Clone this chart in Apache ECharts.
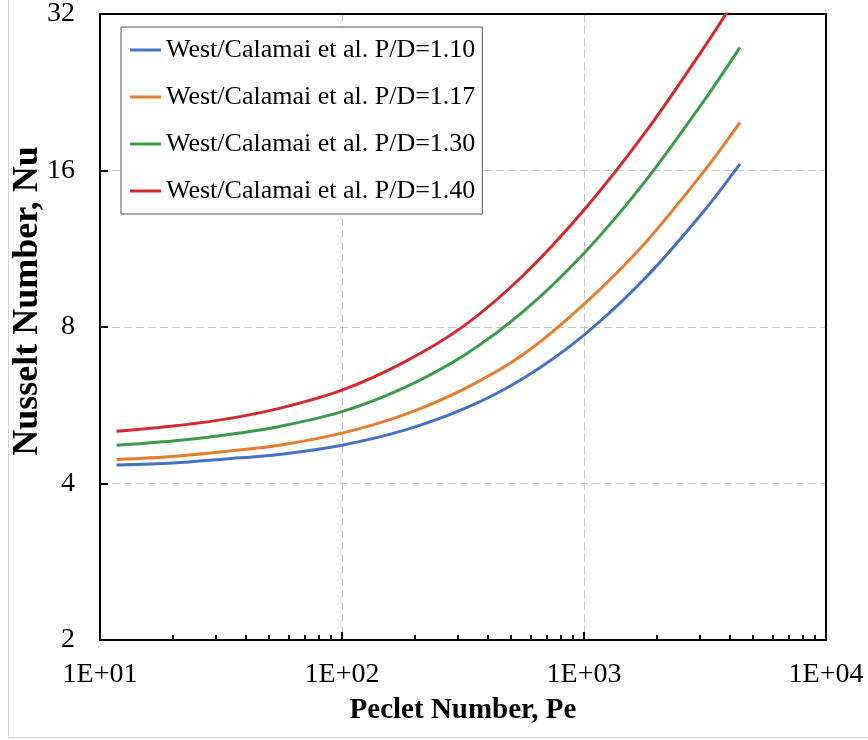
<!DOCTYPE html>
<html>
<head>
<meta charset="utf-8">
<script src="https://cdn.jsdelivr.net/npm/echarts@6/dist/echarts.min.js"></script>
<style>
html,body{margin:0;padding:0;background:#fff;}
#chart{width:868px;height:740px;}
</style>
</head>
<body>
<div id="chart"></div>
<script>
// Peclet numbers where the curves were read
const peValues = [11.7, 20, 33, 55, 100, 180, 320, 560, 1000, 1800, 3200, 4413];
// Nusselt numbers
const nuPD110 = [4.34, 4.38, 4.46, 4.55, 4.74, 5.06, 5.57, 6.37, 7.72, 9.96, 13.54, 16.47];
const nuPD117 = [4.45, 4.51, 4.61, 4.74, 5.00, 5.42, 6.08, 7.08, 8.85, 11.65, 16.15, 19.8];
const nuPD130 = [4.74, 4.83, 4.96, 5.15, 5.50, 6.11, 7.06, 8.56, 11.09, 15.3, 22.1, 27.6];
const nuPD140 = [5.04, 5.16, 5.32, 5.58, 6.05, 6.84, 8.05, 10.05, 13.43, 19.0, 28.0, 35.3];

const seriesNames = [
  'West/Calamai et al. P/D=1.10',
  'West/Calamai et al. P/D=1.17',
  'West/Calamai et al. P/D=1.30',
  'West/Calamai et al. P/D=1.40'
];
const seriesColors = ['#4472C4', '#E47E30', '#3B9B4A', '#D42A2F'];

const xTickLabels = ['1E+01', '1E+02', '1E+03', '1E+04'];
const xMinorTicks = [20,30,40,50,60,70,80,90,200,300,400,500,600,700,800,900,2000,3000,4000,5000,6000,7000,8000,9000];
const yTickLabels = ['2', '4', '8', '16', '32'];

const allNu = [nuPD110, nuPD117, nuPD130, nuPD140];
const FONT = 'Liberation Serif';

const chart = echarts.init(document.getElementById('chart'), null, {renderer: 'canvas'});

const frameAxisX = pos => ({
  type: 'log', logBase: 10, min: 10, max: 10000, position: pos,
  axisLine: {show: true, onZero: false, lineStyle: {color: '#000', width: 2}},
  axisTick: {show: false}, axisLabel: {show: false}, splitLine: {show: false}
});

const option = {
  backgroundColor: '#fff',
  animation: false,
  grid: {left: 100, right: 42, top: 14, bottom: 100, show: false},
  legend: {
    orient: 'vertical',
    left: 121, top: 27,
    padding: [8, 7, 8, 9],
    itemGap: 17,
    itemWidth: 31,
    itemHeight: 3,
    icon: 'rect',
    borderColor: '#595959',
    borderWidth: 1,
    backgroundColor: '#fff',
    textStyle: {fontFamily: FONT, fontSize: 26, color: '#000', lineHeight: 30},
    data: seriesNames
  },
  xAxis: [{
    type: 'log', logBase: 10, min: 10, max: 10000,
    position: 'bottom',
    axisLine: {show: true, onZero: false, lineStyle: {color: '#000', width: 2}},
    axisTick: {show: true, inside: true, length: 8, lineStyle: {color: '#000', width: 2}},
    axisLabel: {
      fontFamily: FONT, fontSize: 28, color: '#000', margin: 21,
      formatter: v => xTickLabels[Math.round(Math.log10(v)) - 1]
    },
    splitLine: {show: true, lineStyle: {color: '#c4c4c4', width: 1, type: [8, 4]}},
    name: 'Peclet Number, Pe',
    nameLocation: 'middle',
    nameGap: 56,
    nameTextStyle: {fontFamily: FONT, fontSize: 29, fontWeight: 'bold', color: '#000'}
  }, {
    type: 'log', logBase: 10, min: 10, max: 10000,
    position: 'bottom',
    axisLine: {show: false},
    axisLabel: {show: false},
    splitLine: {show: false},
    axisTick: {show: true, inside: true, length: 5, customValues: xMinorTicks, lineStyle: {color: '#000', width: 2}}
  }, frameAxisX('top')],
  yAxis: [{
    type: 'log', logBase: 2, min: 2, max: 32,
    position: 'left',
    axisLine: {show: true, onZero: false, lineStyle: {color: '#000', width: 2}},
    axisTick: {show: true, inside: true, length: 8, lineStyle: {color: '#000', width: 2}},
    axisLabel: {
      fontFamily: FONT, fontSize: 28, color: '#000', margin: 25,
      formatter: v => yTickLabels[Math.round(Math.log2(v)) - 1]
    },
    splitLine: {show: true, lineStyle: {color: '#c4c4c4', width: 1, type: [8, 4]}}
  }, {
    type: 'log', logBase: 2, min: 2, max: 32,
    position: 'right',
    axisLine: {show: true, onZero: false, lineStyle: {color: '#000', width: 2}},
    axisTick: {show: false}, axisLabel: {show: false}, splitLine: {show: false}
  }],
  graphic: [
    {
      type: 'text',
      x: 28, y: 301,
      rotation: Math.PI / 2,
      style: {
        text: 'Nusselt Number, Nu',
        fontFamily: FONT, fontSize: 36, fontWeight: 'bold', fill: '#000',
        align: 'center', verticalAlign: 'middle'
      }
    },
    {type: 'line', shape: {x1: 8.5, y1: 0, x2: 8.5, y2: 737}, style: {stroke: '#d4d4d4', lineWidth: 1}},
    {type: 'line', shape: {x1: 8, y1: 737.5, x2: 868, y2: 737.5}, style: {stroke: '#d4d4d4', lineWidth: 1}}
  ],
  series: seriesNames.map((name, i) => ({
    name: name,
    type: 'line',
    xAxisIndex: 0,
    yAxisIndex: 0,
    smooth: 0.3,
    symbol: 'none',
    clip: true,
    color: seriesColors[i],
    itemStyle: {color: seriesColors[i]},
    lineStyle: {color: seriesColors[i], width: 3},
    data: peValues.map((pe, j) => [pe, allNu[i][j]])
  }))
};

chart.setOption(option);
</script>
</body>
</html>
